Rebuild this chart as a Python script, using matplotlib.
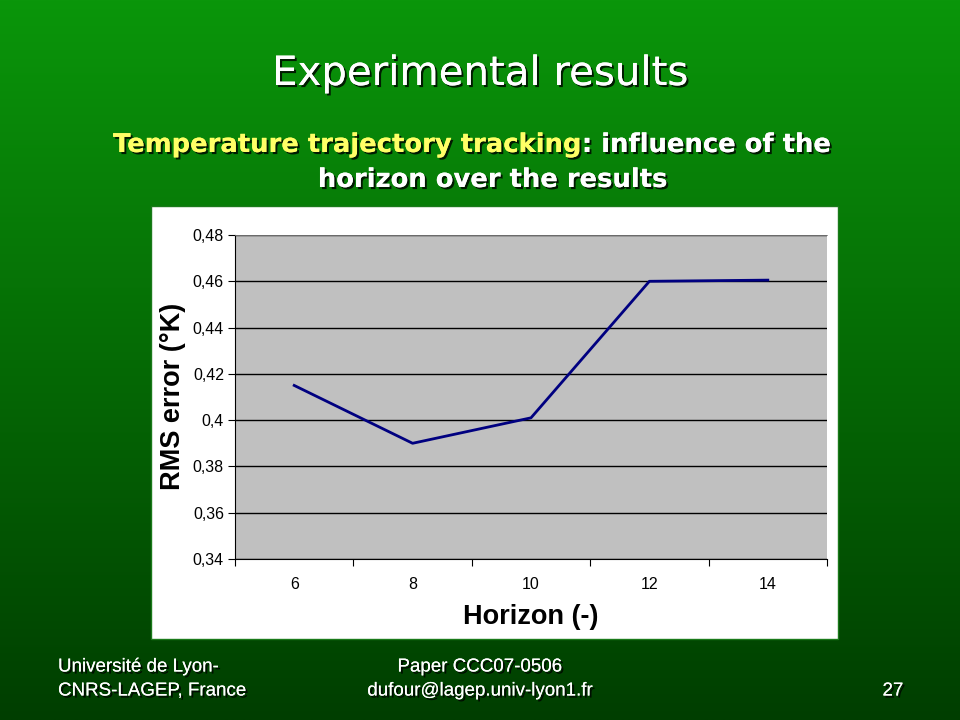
import numpy as np
import matplotlib
matplotlib.use("Agg")
from matplotlib import pyplot as plt
import matplotlib.patheffects as pe
from matplotlib.patches import Rectangle

horizon = ["6", "8", "10", "12", "14"]
rms_error = [0.415, 0.390, 0.401, 0.460, 0.4605]
y_ticks = [0.34, 0.36, 0.38, 0.40, 0.42, 0.44, 0.46, 0.48]
y_tick_labels = ["0,34", "0,36", "0,38", "0,4", "0,42", "0,44", "0,46", "0,48"]

W, H = 960, 720
fig = plt.figure(figsize=(9.6, 7.2), dpi=100)

# fond vert en degrade
bg = fig.add_axes([0, 0, 1, 1])
bg.set_xlim(0, W)
bg.set_ylim(H, 0)
bg.axis("off")
top = np.array([10, 150, 10]) / 255
bot = np.array([0, 62, 0]) / 255
t = np.linspace(0, 1, 256)[:, None]
grad = top[None, None, :] * (1 - t[:, :, None]) + bot[None, None, :] * t[:, :, None]
grad = np.repeat(grad, 2, axis=1)
bg.imshow(grad, extent=[0, W, H, 0], aspect="auto", zorder=0)

shadow = [pe.withSimplePatchShadow(offset=(1.5, -1.5), shadow_rgbFace="black", alpha=0.8), pe.Normal()]

bg.text(480, 74, "Experimental results", color="white", fontsize=29,
        family="DejaVu Sans", weight="medium", ha="center", va="center", path_effects=shadow)

t1 = bg.text(113, 145, "Temperature trajectory tracking", color="#ffff66", fontsize=18.6,
             family="DejaVu Sans", weight="bold", ha="left", va="center", path_effects=shadow)
bg.annotate(": influence of the", xy=(1, 0.5), xycoords=t1, color="white", fontsize=18.6,
            family="DejaVu Sans", weight="bold", ha="left", va="center", path_effects=shadow)
bg.text(493, 180, "horizon over the results", color="white", fontsize=18.6,
        family="DejaVu Sans", weight="bold", ha="center", va="center", path_effects=shadow)

# cadre blanc du graphique
bg.add_patch(Rectangle((151, 206), 687, 433, facecolor="white", edgecolor="#1a7a1a", lw=1, zorder=1))

# pied de page
foot = dict(color="white", fontsize=13.5, family="Liberation Sans", path_effects=shadow)
bg.text(58, 667, "Université de Lyon-", ha="left", va="center", **foot)
bg.text(58, 691, "CNRS-LAGEP, France", ha="left", va="center", **foot)
bg.text(480, 667, "Paper CCC07-0506", ha="center", va="center", **foot)
bg.text(480, 691, "dufour@lagep.univ-lyon1.fr", ha="center", va="center", **foot)
bg.text(893, 691, "27", ha="center", va="center", **foot)

ax = fig.add_axes([235 / W, 1 - 559 / H, (827 - 235) / W, (559 - 235) / H])
ax.set_facecolor("#c0c0c0")
x = np.arange(len(horizon))
ax.plot(x, rms_error, color="#000080", lw=2)
ax.set_xlim(-0.5, len(horizon) - 0.5)
ax.set_ylim(0.34, 0.48)
ax.set_yticks(y_ticks)
ax.set_yticklabels(y_tick_labels, family="Liberation Sans", fontsize=11.5)
ax.set_xticks(x)
ax.set_xticklabels(horizon, family="Liberation Sans", fontsize=11.5)
ax.set_xticks(np.arange(len(horizon) + 1) - 0.5, minor=True)
ax.tick_params(axis="x", which="major", length=0, pad=13)
ax.tick_params(axis="x", which="minor", length=5, width=0.8, direction="out")
ax.tick_params(axis="y", length=5, width=0.8, direction="out", pad=3)
ax.grid(axis="y", color="black", lw=1)
ax.set_axisbelow(True)
ax.spines["right"].set_visible(False)
ax.spines["left"].set_color("black")
ax.spines["bottom"].set_color("black")
ax.spines["top"].set_color("#808080")
ax.spines["top"].set_linewidth(0.6)

fig.text(173 / W, 1 - 396 / H, "RMS error (°K)", rotation=90, fontsize=19.5, weight="bold",
         family="Liberation Sans", ha="center", va="center")
fig.text(531 / W, 1 - 617 / H, "Horizon (-)", fontsize=19.5, weight="bold",
         family="Liberation Sans", ha="center", va="center")

fig.savefig("out.png", dpi=100)
